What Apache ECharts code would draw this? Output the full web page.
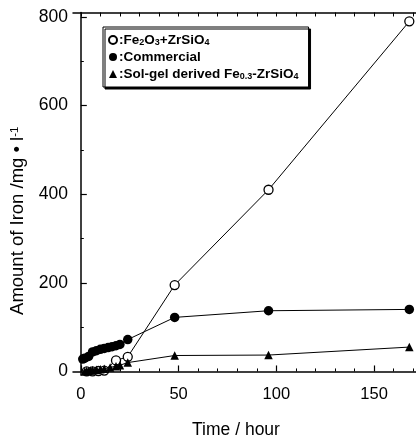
<!DOCTYPE html>
<html>
<head>
<meta charset="utf-8">
<script src="https://cdn.jsdelivr.net/npm/echarts@6/dist/echarts.min.js"></script>
<style>
  html, body { margin: 0; padding: 0; background: #fff; }
  #chart { width: 416px; height: 437px; }
</style>
</head>
<body>
<div id="chart"></div>
<script>
// Iron leached into solution vs. time for three pigment samples
const timeFe2O3 = [3, 6, 9, 12, 18, 24, 48, 96, 168];
const ironFe2O3 = [0, 0, 1, 2, 25, 33, 195, 410, 790];

const timeCommercial = [1, 2, 4, 6, 8, 10, 12, 14, 16, 18, 20, 24, 48, 96, 168];
const ironCommercial = [28, 30, 34, 44, 47, 50, 52, 54, 56, 58, 61, 72, 122, 137, 140];

const timeSolGel = [2, 3, 4, 5, 6, 8, 10, 12, 15, 18, 20, 24, 48, 96, 168];
const ironSolGel = [0, 1, 1, 2, 3, 4, 5, 6, 9, 12, 14, 20, 36, 37, 55];

const xMajorTicks = [0, 50, 100, 150];
const xMinorTicks = [10, 20, 30, 40, 60, 70, 80, 90, 110, 120, 130, 140, 160, 170];
const yMajorTicks = [0, 200, 400, 600, 800];
const yMinorTicks = [100, 300, 500, 700];

const seriesNames = ['Fe2O3+ZrSiO4', 'Commercial', 'Sol-gel'];
const legendText = {
  'Fe2O3+ZrSiO4': '{n|:Fe}{s|2}{n|O}{s|3}{n|+ZrSiO}{s|4}',
  'Commercial': '{n|:Commercial}',
  'Sol-gel': '{n|:Sol-gel derived Fe}{s|0.3}{n|-ZrSiO}{s|4}'
};

const pairs = (xs, ys) => xs.map((x, i) => [x, ys[i]]);

const FONT = '"Liberation Sans", Arial, sans-serif';
const X_MIN = -4, X_MAX = 175, Y_MIN = -8, Y_MAX = 810;

const axisLineStyle = { show: true, lineStyle: { color: '#000', width: 1.5 } };

const chart = echarts.init(document.getElementById('chart'), null, { renderer: 'canvas' });

chart.setOption({
  backgroundColor: '#fff',
  animation: false,
  textStyle: { fontFamily: FONT, color: '#000' },
  grid: { left: 73, right: -7, top: 12.5, bottom: 62, containLabel: false, outerBoundsMode: 'none' },
  legend: {
    orient: 'vertical',
    left: 103,
    top: 27,
    padding: [6, 10, 6, 5],
    itemGap: 3,
    itemWidth: 8,
    itemHeight: 8,
    backgroundColor: '#fff',
    borderColor: '#000',
    borderWidth: 1,
    shadowColor: '#000',
    shadowBlur: 0,
    shadowOffsetX: 2,
    shadowOffsetY: 2,
    data: [
      { name: seriesNames[0], icon: 'circle' },
      { name: seriesNames[1], icon: 'circle' },
      { name: seriesNames[2], icon: 'triangle' }
    ],
    formatter: name => legendText[name],
    textStyle: {
      padding: [0, 0, 0, -3],
      rich: {
        n: { fontFamily: FONT, fontSize: 13.5, fontWeight: 'bold', color: '#000', lineHeight: 14 },
        s: { fontFamily: FONT, fontSize: 9, fontWeight: 'bold', color: '#000', verticalAlign: 'bottom', lineHeight: 9 }
      }
    }
  },
  xAxis: [
    {
      type: 'value', position: 'bottom', min: X_MIN, max: X_MAX,
      axisLine: axisLineStyle,
      axisTick: { show: true, inside: true, length: 6, customValues: xMajorTicks, lineStyle: { color: '#000', width: 1.2 } },
      axisLabel: { show: true, customValues: xMajorTicks, fontSize: 16.5, color: '#000', margin: 11, fontFamily: FONT },
      splitLine: { show: false },
      name: 'Time / hour',
      nameLocation: 'middle',
      nameGap: 46,
      nameTextStyle: { fontSize: 17.5, color: '#000', fontFamily: FONT, padding: [0, 24, 0, 0] }
    },
    {
      type: 'value', position: 'bottom', min: X_MIN, max: X_MAX,
      axisLine: { show: false },
      axisTick: { show: true, inside: true, length: 3, customValues: xMinorTicks, lineStyle: { color: '#000', width: 1 } },
      axisLabel: { show: false },
      splitLine: { show: false }
    },
    {
      type: 'value', position: 'top', min: X_MIN, max: X_MAX,
      axisLine: axisLineStyle,
      axisTick: { show: true, inside: true, length: 4, customValues: xMajorTicks.concat(xMinorTicks), lineStyle: { color: '#000', width: 1 } },
      axisLabel: { show: false },
      splitLine: { show: false }
    }
  ],
  yAxis: [
    {
      type: 'value', position: 'left', min: Y_MIN, max: Y_MAX,
      axisLine: axisLineStyle,
      axisTick: { show: true, inside: true, length: 6, customValues: yMajorTicks, lineStyle: { color: '#000', width: 1.2 } },
      axisLabel: { show: true, customValues: yMajorTicks, fontSize: 17.5, color: '#000', margin: 5, fontFamily: FONT },
      splitLine: { show: false },
      name: '{t|Amount of Iron /mg • l}{p|-1}',
      nameLocation: 'middle',
      nameGap: 37,
      nameTextStyle: {
        padding: [0, 54, 0, 0],
        rich: {
          t: { fontSize: 18.5, color: '#000', fontFamily: FONT, lineHeight: 19 },
          p: { fontSize: 11.5, color: '#000', fontFamily: FONT, verticalAlign: 'top', lineHeight: 11 }
        }
      }
    },
    {
      type: 'value', position: 'left', min: Y_MIN, max: Y_MAX,
      axisLine: { show: false },
      axisTick: { show: true, inside: true, length: 3, customValues: yMinorTicks, lineStyle: { color: '#000', width: 1 } },
      axisLabel: { show: false },
      splitLine: { show: false }
    }
  ],
  series: [
    {
      name: seriesNames[0], type: 'line', xAxisIndex: 0, yAxisIndex: 0,
      data: pairs(timeFe2O3, ironFe2O3),
      symbol: 'circle', symbolSize: 9, z: 2,
      lineStyle: { color: '#000', width: 1 },
      itemStyle: { color: '#fff', borderColor: '#000', borderWidth: 1.3 }
    },
    {
      name: seriesNames[1], type: 'line', xAxisIndex: 0, yAxisIndex: 0,
      data: pairs(timeCommercial, ironCommercial),
      symbol: 'circle', symbolSize: 9.5, z: 3,
      lineStyle: { color: '#000', width: 1 },
      itemStyle: { color: '#000', borderColor: '#000', borderWidth: 0 }
    },
    {
      name: seriesNames[2], type: 'line', xAxisIndex: 0, yAxisIndex: 0,
      data: pairs(timeSolGel, ironSolGel),
      symbol: 'triangle', symbolSize: 8.5, z: 4,
      lineStyle: { color: '#000', width: 1 },
      itemStyle: { color: '#000', borderColor: '#000', borderWidth: 0 }
    }
  ]
});
</script>
</body>
</html>
